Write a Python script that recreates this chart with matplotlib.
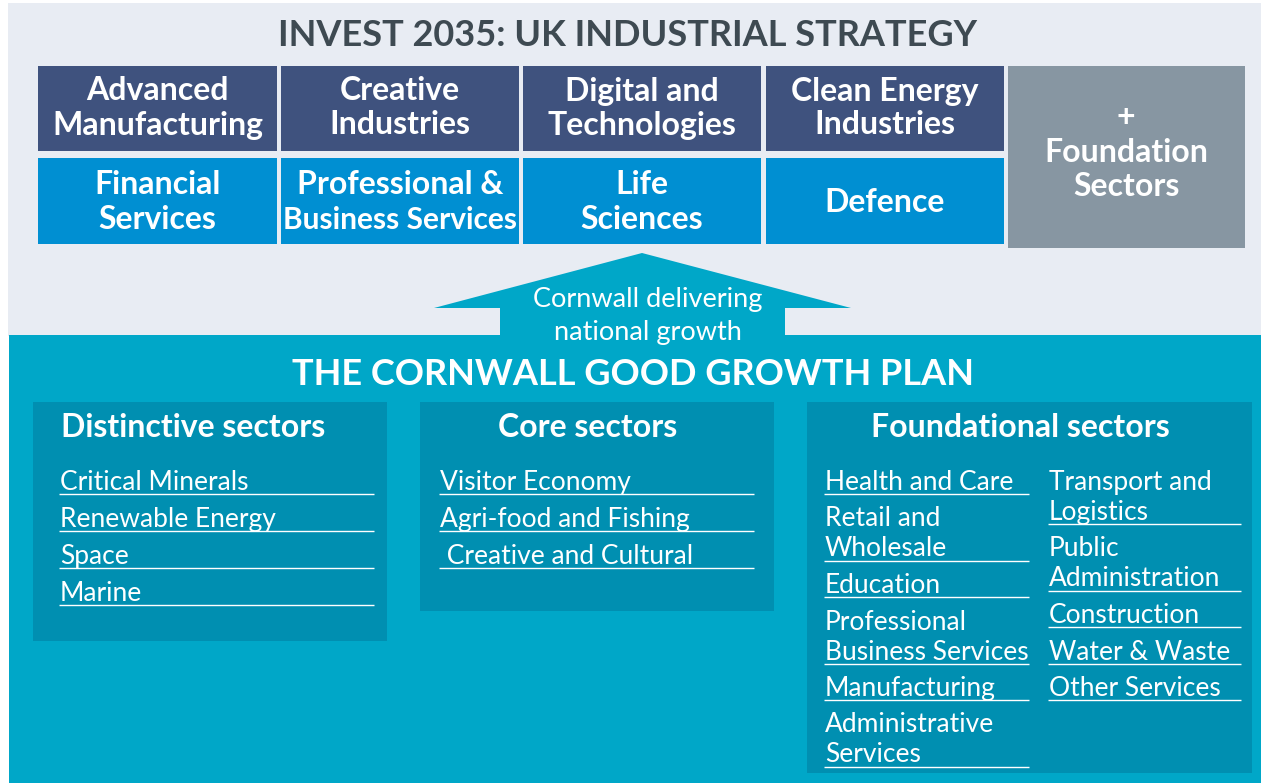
import matplotlib
matplotlib.use("Agg")
import matplotlib.pyplot as plt
from matplotlib.patches import Rectangle, Polygon

plt.rcParams['font.family'] = ['Lato', 'DejaVu Sans']

# ---------------- data ----------------
main_title = "INVEST 2035: UK INDUSTRIAL STRATEGY"
priority_row1 = ["Advanced\nManufacturing", "Creative\nIndustries",
                 "Digital and\nTechnologies", "Clean Energy\nIndustries"]
priority_row2 = ["Financial\nServices", "Professional &\nBusiness Services",
                 "Life\nSciences", "Defence"]
foundation_label = "+\nFoundation\nSectors"
arrow_label = "Cornwall delivering\nnational growth"
plan_title = "THE CORNWALL GOOD GROWTH PLAN"

distinctive_title = "Distinctive sectors"
distinctive_items = ["Critical Minerals", "Renewable Energy", "Space", "Marine"]
core_title = "Core sectors"
core_items = ["Visitor Economy", "Agri-food and Fishing", " Creative and Cultural"]
foundational_title = "Foundational sectors"
foundational_col1 = ["Health and Care", "Retail and\nWholesale", "Education",
                     "Professional\nBusiness Services", "Manufacturing",
                     "Administrative\nServices"]
foundational_col2 = ["Transport and\nLogistics", "Public\nAdministration",
                     "Construction", "Water & Waste", "Other Services"]

# ---------------- style ----------------
C_LIGHT = "#E8ECF3"
C_TITLE = "#3E4A52"
C_NAVY = "#3F527E"
C_BLUE = "#008FD2"
C_GREY = "#8796A2"
C_TEAL = "#00A7C8"
C_DTEAL = "#008FB1"
WHITE = "white"

W, H = 1261, 783
fig = plt.figure(figsize=(W / 100, H / 100), dpi=100)
ax = fig.add_axes([0, 0, 1, 1])
ax.set_xlim(0, W)
ax.set_ylim(H, 0)
ax.axis("off")
renderer = fig.canvas.get_renderer()


def rect(x0, y0, x1, y1, color):
    ax.add_patch(Rectangle((x0, y0), x1 - x0, y1 - y0, facecolor=color,
                           edgecolor="none", zorder=1))


def block_text(cx, cy, label, size, ls, max_w=None, weight="bold"):
    lines = label.split("\n")
    n = len(lines)
    for i, ln in enumerate(lines):
        base = cy + (i - (n - 1) / 2) * ls + size / 2
        t = ax.text(cx, base, ln, ha="center", va="baseline", fontsize=size,
                    fontweight=weight, color=WHITE, zorder=3)
        if max_w is not None:
            w = t.get_window_extent(renderer).width
            if w > max_w:
                t.set_fontsize(size * max_w / w)


# backgrounds
rect(8, 3, W, 336, C_LIGHT)
rect(9, 335, W, H, C_TEAL)

ax.text(627, 46, main_title, ha="center", va="baseline", fontsize=26,
        fontweight="bold", color=C_TITLE, zorder=3)

# priority sector grid
col_x = [(38, 277), (281, 519), (523, 761), (766, 1004)]
for (x0, x1), lab in zip(col_x, priority_row1):
    rect(x0, 66, x1, 151, C_NAVY)
    block_text((x0 + x1) / 2, 106, lab, 23, 34, max_w=x1 - x0 - 4)
for (x0, x1), lab in zip(col_x, priority_row2):
    rect(x0, 158, x1, 244, C_BLUE)
    block_text((x0 + x1) / 2, 200, lab, 23, 35, max_w=x1 - x0 - 4)
rect(1008, 66, 1245, 248, C_GREY)
block_text(1126, 150, foundation_label, 23, 34)

# arrow
ax.add_patch(Polygon([(434, 308), (642, 253), (851, 308), (785, 308),
                      (785, 340), (500, 340), (500, 308)], closed=True,
                     facecolor=C_TEAL, edgecolor="none", zorder=2))
al = arrow_label.split("\n")
ax.text(648, 307, al[0], ha="center", va="baseline", fontsize=19.5,
        color=WHITE, zorder=3)
ax.text(648, 340, al[1], ha="center", va="baseline", fontsize=19.5,
        color=WHITE, zorder=3)

ax.text(633, 385, plan_title, ha="center", va="baseline", fontsize=26,
        fontweight="bold", color=WHITE, zorder=3)

# sub boxes
rect(33, 402, 387, 641, C_DTEAL)
rect(420, 402, 774, 611, C_DTEAL)
rect(807, 402, 1252, 773, C_DTEAL)

ax.text(61, 437, distinctive_title, ha="left", va="baseline", fontsize=23,
        fontweight="bold", color=WHITE, zorder=3)
ax.text(588, 437, core_title, ha="center", va="baseline", fontsize=23,
        fontweight="bold", color=WHITE, zorder=3)
ax.text(1020, 437, foundational_title, ha="center", va="baseline",
        fontsize=23, fontweight="bold", color=WHITE, zorder=3)


def item_list(items, x_text, x0, x1, first_line, size=19, gap=37, ls=30):
    y_line = first_line
    for it in items:
        lines = it.split("\n")
        n = len(lines)
        y_line_this = y_line + (n - 1) * ls
        for j, ln in enumerate(lines):
            base = y_line_this - 4 - (n - 1 - j) * ls
            ax.text(x_text, base, ln, ha="left", va="baseline", fontsize=size,
                    color=WHITE, zorder=3)
        ax.plot([x0, x1], [y_line_this, y_line_this], color=WHITE, lw=1.0,
                solid_capstyle="butt", zorder=3)
        y_line = y_line_this + gap


item_list(distinctive_items, 60, 59, 374, 494)
item_list(core_items, 440, 439, 754, 494)
item_list(foundational_col1, 825, 824, 1029, 494, gap=36.5)
item_list(foundational_col2, 1049, 1048, 1241, 494, gap=36.5)

fig.savefig("out.png", dpi=100, facecolor="white")
